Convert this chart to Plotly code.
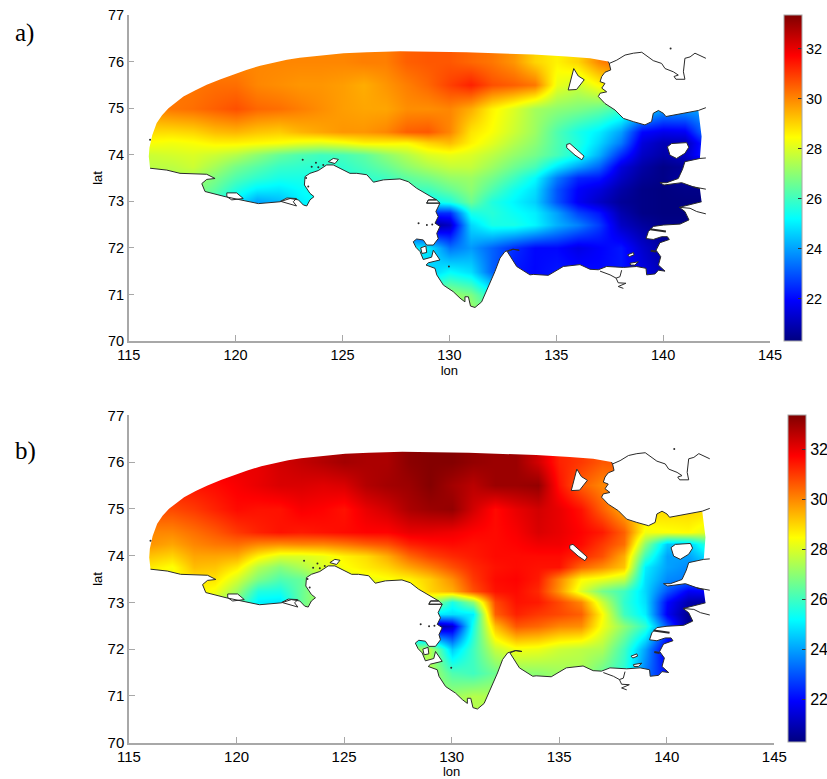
import plotly.graph_objects as go

lon = [115+i for i in range(28)]
lat = [70.5, 71.0, 71.5, 72.0, 72.5, 72.75, 73.0, 73.25, 73.5, 73.75, 74.0, 74.25, 74.5, 75.0, 75.5, 76.0, 76.5]

sst_a = [
 [25,25,25,25,25,25,25,25,25,25,25,25,25,25,26.5,27.5,27.5,27.0,24,22,22,22,22,22,22,22,21,21],
 [25,25,25,25,25,25,25,25,25,25,25,25,25,25,26.5,27.2,26.8,25.5,23,22,22,22,22,22,22,21.5,21,21],
 [25,25,25,25,25,25,25,25,25,25,25,25,25,25,24.5,25.2,24.8,23.2,22.2,22,22.2,22.1,22,22.2,21.6,21,21,21],
 [25,25,25,25,25,25,25,25,25,25,25,25,25,25,25,23.4,23.9,23.2,22.5,22,22,21.6,21.9,22.2,21.3,20.7,20.6,20.6],
 [25,25,25,25,25,25,25,25,25,25,25,25,24,22,20.5,21.2,24.7,25.5,25.5,25.1,24.2,23.6,22.7,21.2,20.7,20.4,20.4,20.4],
 [25,25,25,25,25,25,25,25,25,25,25,25,25,24,22.5,22.5,25.5,25.7,25.3,25,24,22.8,22.2,20.9,20.4,20.3,20.3,20.3],
 [27,27,27,26.6,25.8,25,24,24.3,25,25.3,25.4,25.4,25.4,25.4,25.2,25.6,26.6,25.6,25.1,24.6,23,21.8,21.2,20.6,20.4,20.3,20.3,20.3],
 [27,27,27,27,26.4,25.6,25,24.9,25.2,25.5,25.5,25.5,25.5,26,26,26.5,27,26.2,25.4,24.8,23,21.9,21.5,20.8,20.4,20.3,20.4,20.4],
 [27.3,27.3,27.4,27.3,26.8,26.2,25.8,25.5,25.5,25.5,25.6,25.8,26,26.4,26.7,27.1,27.2,26.7,26,25.2,23.5,22.4,22.2,21.2,20.6,20.4,20.8,21],
 [27.6,27.6,27.6,27.8,27.3,26.7,26.3,25.9,25.8,25.7,25.8,26.1,26.5,27,27.4,27.7,27.7,27.2,26.6,26.1,24.9,24,23.2,21.5,20.8,20.4,20.6,21],
 [27.8,27.8,27.9,28,27.8,27.5,27,26.5,26.2,26,26.1,26.4,27,27.5,28,28.2,28,27.6,27.1,26.7,26.1,25.4,24.2,22.5,21.2,20.8,21.2,22.5],
 [28.4,28.4,28.3,28.4,28.6,28.6,28.5,28.4,28.2,28.1,28.3,28.6,28.6,28.5,29,29.3,28.6,28.1,27.5,27,26.2,25.6,24.7,23.5,21.5,21,21,22.5],
 [28.9,28.9,28.9,29,29.3,29.4,29.2,29.1,29.4,29.6,29.8,29.8,30,30.5,30.6,30,28.8,28.4,27.8,27.2,26.2,25.5,25,24,22,21.7,21.8,23.5],
 [29.9,30,30.2,30.3,30.5,30.7,30.4,30.3,30.1,29.9,29.7,29.6,29.6,29.9,29.9,30,29.5,28.6,28,27.3,27,26.8,26.5,26,25,24,24,24],
 [30.2,30.2,30.2,30.2,30.3,30.3,30,29.9,29.8,29.8,29.7,29.5,29.8,30.1,30.4,30.9,31.3,30.7,30.5,30.2,28.2,27.8,28.5,29,29,29,29,29],
 [30,30,30,30,30,30,30,30,30,30,30,30.1,30.1,30.5,30.6,30.6,30.4,30.2,29.8,29,28.6,29,30,30.5,30.5,30.5,30.5,30.5],
 [30,30,30,30,30,30,30,30,30,30,30,30.1,30.1,30.5,30.6,30.6,30.4,30.2,29.8,29,28.6,29,30,30.5,30.5,30.5,30.5,30.5],
]

sst_b = [
 [26,26,26,26,26,26,26,26,26,26,26,26,26,26,27,27.3,27.5,27.5,27,27,27,27,26.5,25.5,24,22,21,21],
 [26,26,26,26,26,26,26,26,26,26,26,26,26,26,27,27.2,27.5,27.4,27,27,27,27,26.5,25.5,24,22,21,21],
 [26,26,26,26,26,26,26,26,26,26,26,26,26,27,27.4,26.2,26,26.6,27,27,27.2,27.3,26.5,25.7,23.5,22,21,21],
 [26,26,26,26,26,26,26,26,26,26,26,26,26,27,27.5,24.5,26,27.7,28.3,28.2,27.8,27.6,27.4,26,24,21.5,21,21],
 [27,27,27,27,27,27,27,27,27,27,27,27,26,23,20.5,21.3,25.5,29.3,30.6,30.4,30,29.9,28.3,27,25.8,23,20.5,20.5],
 [27.5,27.5,27.5,27.5,27.5,27.5,27,27,27,27,27,27,27,26,25,24.8,25,30.5,31.3,31,30.8,30.5,28.5,26,25,21.8,20.5,20.5],
 [28.5,28.5,28.5,28.3,27.7,26.5,25,24.9,26.5,27.6,27.6,27.6,27.6,28,27.5,25.5,27,30.8,31.5,31.4,30.8,30,27.8,25.8,24.8,22,20.9,20.6],
 [28.5,28.5,28.5,28.7,28.3,27.2,25.6,25.5,26.5,27.6,28,28,28,28.2,29,29.5,30.7,31.5,31.6,31.2,29.8,28,26.7,26,24.7,23,21.8,22],
 [28.3,28.3,28.3,28.8,28.8,27.9,26.8,26.2,26.5,27.5,28,28.2,28.4,28.6,29.1,29.9,31,31.6,31.7,31.4,30,28.5,28.2,27.7,24.8,23.7,23.5,23],
 [28.7,28.7,28.4,29.3,29.2,28.7,27.5,26.9,27.4,28,28.4,28.7,29,29.6,30.1,30.7,31.2,31.5,31.6,31.5,31.5,30.4,29.9,29.2,25,24,23.7,24],
 [29.2,29.2,29,29.6,29.6,29.5,28.6,28,28,28.2,28.6,28.9,29.5,30.4,30.9,31.2,31.4,31.6,31.6,31.6,31.6,31.2,30.7,29.5,26,24,24,25],
 [29.8,29.8,29.6,30,30.2,30.3,30,29.9,30,30,30.2,30.5,30.7,31.3,31.5,31.6,31.5,31.6,31.7,31.9,31.9,31.6,31,30.3,27,24.5,24.5,26],
 [30,30,30,30.3,30.6,31,31.3,31.5,31.4,31.5,31.6,31.7,31.7,32,32,31.9,31.7,31.6,31.8,32.2,32,31.7,31.4,30.5,28.3,28.4,28.5,28],
 [30.6,30.8,30.8,31,31.3,31.6,31.5,31.5,31.8,31.7,31.5,32,32.3,32.8,33,33.1,32.3,31.6,32,32.3,32,31.5,30.5,29.5,29,29,29,29],
 [31.4,31.4,31.4,31.5,31.6,31.8,32,32.2,32.2,32.1,32.2,32.7,32.9,33,33.3,32.9,32.6,33,33,33.1,31.5,30.5,30,30,30,30,30,30],
 [32,32,32,32,32,32,32,32.3,32.5,32.7,32.9,32.8,32.8,33.2,33.3,33.3,33.1,33,33,32.3,31.3,31,30.6,30.6,30.6,30.6,30.6,30.6],
 [32,32,32,32,32,32,32,32.3,32.5,32.7,32.9,32.8,32.8,33.2,33.3,33.3,33.1,33,33,32.3,31.3,31,30.6,30.6,30.6,30.6,30.6,30.6],
]

arc_lon = [116.0,115.94,115.97,116.1,116.31,116.56,116.86,117.2,117.56,118.1,118.65,119.3,119.9,120.5,121.15,121.8,122.4,123,123.64,124.3,125.05,126.14,127.7,130.8,132.3,133.93,135.49,136.58,137.43]
arc_lat = [73.71,73.96,74.15,74.42,74.68,74.85,75.0,75.13,75.25,75.38,75.5,75.62,75.72,75.82,75.91,75.98,76.04,76.08,76.11,76.15,76.18,76.2,76.22,76.2,76.18,76.15,76.11,76.07,76.0]

coast1_lon = [137.43,137.48,137.55,137.28,137.13,137.05,137.28,137.13,137.36,137.05,136.97,137.28,137.75,138.14,138.61,139.15,139.46,139.54,139.78,140.01,140.13,141.1,141.65]
coast1_lat = [76.0,75.96,75.82,75.77,75.68,75.57,75.53,75.43,75.35,75.32,75.25,75.1,74.96,74.78,74.71,74.64,74.71,74.89,74.95,74.89,74.82,74.9,74.95]

edge1_lon = [141.8]
edge1_lat = [74.39]

coast2_lon = [141.72,141.02,140.91,140.71,140.17,139.85,140.04,140.87,141.41,141.72]
coast2_lat = [73.92,73.85,73.69,73.49,73.4,73.4,73.35,73.4,73.31,73.27]

coast3_lon = [141.8,140.76,141.02,141.21,140.79,140.01,139.54,139.31,139.2,139.54,139.93,140.2,140.29,139.85,139.67,139.89,139.78,140.09,139.78,139.62,139.23,139.2,138.76,138.14,137.36,136.97,136.58,136.11,135.33,134.63,133.93,133.77,133.15,132.83,132.71,132.99,133.27,132.95,132.6,132.37,132.13,131.82,131.51,131.2,130.99,130.89,130.73,130.73,130.5,130.18,129.72,129.41,129.33,128.91,129.02,129.56,129.25,129.17,128.78,128.63,128.44,128.31,128.47,128.78,128.94,129.25,129.48,129.41,129.56,129.33,129.48,129.37,129.56,128.94,129.02,129.4,128.91,128.47,128.08,127.69,126.92,126.45,126.14,125.67,125.35,124.89,124.57,124.26,123.87,123.48,123.25,123.22,123.48,123.67,123.48,123.33,123.17,122.94,122.55,122.08,121.07,120.44,119.51,118.57,118.42,118.65,119.04,118.65,117.87,117.4,116.78,116.0]
coast3_lat = [72.99,72.87,72.78,72.6,72.51,72.49,72.46,72.35,72.2,72.18,72.24,72.24,72.18,72.11,71.95,71.81,71.63,71.5,71.52,71.44,71.42,71.56,71.6,71.58,71.6,71.53,71.54,71.64,71.6,71.41,71.43,71.42,71.6,71.85,71.92,71.97,71.95,71.97,71.92,71.78,71.49,71.17,70.84,70.72,70.75,70.95,70.95,70.84,70.92,71.06,71.2,71.42,71.56,71.63,71.68,71.74,71.95,71.8,71.75,71.92,72.01,72.13,72.19,72.17,72.06,72.06,72.2,72.31,72.46,72.53,72.67,72.78,72.96,72.96,73.03,73.03,73.17,73.28,73.42,73.48,73.46,73.41,73.57,73.6,73.6,73.71,73.78,73.78,73.66,73.6,73.53,73.35,73.17,73.1,73.03,72.9,72.92,73.03,73.06,72.99,72.95,73.01,73.1,73.21,73.38,73.47,73.49,73.58,73.6,73.6,73.67,73.71]

north_lon = [137.48,137.83,138.22,138.61,139.0,139.23,139.54,139.93,140.09,140.48,140.71,140.51,140.6,141.02,140.95,141.02,141.26,141.49,142.0]
north_lat = [75.96,76.03,76.14,76.18,76.2,76.12,76.02,75.96,75.85,75.78,75.71,75.68,75.62,75.62,75.78,76.07,76.1,76.18,76.07]
spur_a_lon = [141.65,142.0]
spur_a_lat = [74.95,75.01]
spur_b_lon = [141.72,142.0]
spur_b_lat = [73.92,73.93]
spur_c_lon = [141.41,142.0]
spur_c_lat = [73.31,73.26]
spur_d_lon = [140.76,141.26,141.57,142.0]
spur_d_lat = [72.87,72.85,72.78,72.73]
spur_e_lon = [139.39,140.13]
spur_e_lat = [72.4,72.35]
spur_f_lon = [139.42,139.67]
spur_f_lat = [71.94,71.92]
delta_lon = [137.05,137.52,137.8,137.9,138.26,137.9,138.14]
delta_lat = [71.5,71.42,71.35,71.25,71.24,71.17,71.13]
delta2_lon = [138.06,137.98,137.8]
delta2_lat = [71.52,71.38,71.35]

islands = {
 "kotelny": ([135.82,136.03,136.31,135.95,135.56,135.72,135.82],[75.85,75.69,75.61,75.4,75.39,75.64,75.85]),
 "stolbovoy": ([135.49,135.64,136.3,136.2,135.88,135.49,135.49],[74.22,74.24,73.97,73.89,73.99,74.15,74.22]),
 "bolshoy": ([140.2,140.4,141.1,141.2,141.02,140.63,140.32,140.2],[74.17,74.24,74.26,74.16,74.03,73.92,73.99,74.17]),
 "small1": ([138.34,138.61,138.64,138.42,138.34],[71.85,71.9,71.85,71.81,71.85]),
 "small2": ([138.45,138.84,138.68,138.48,138.45],[71.67,71.7,71.63,71.63,71.67]),
 "west1": ([119.59,120.05,120.36,119.82,119.59,119.59],[73.18,73.18,73.06,73.03,73.1,73.18]),
 "west2": ([122.1,122.4,122.85,122.7,122.85,122.4,122.1],[73.0,73.07,73.06,72.99,72.9,72.95,73.0]),
 "north1": ([124.34,124.57,124.81,124.65,124.34],[73.85,73.92,73.9,73.81,73.85]),
 "delta_round": ([128.66,128.9,128.94,128.72,128.66],[72.0,72.04,71.9,71.88,72.0]),
 "north2": ([129.02,129.4,129.56,128.94,129.02],[73.03,73.03,72.96,72.96,73.03]),
}

islet_lon = [116.0,123.14,123.76,123.56,123.87,124.1,128.56,128.95,129.2,129.98,140.35,123.3,123.4]
islet_lat = [74.32,73.89,73.83,73.74,73.73,73.78,72.53,72.49,72.5,71.6,76.28,73.5,73.32]

cb_ticks = [22, 24, 26, 28, 30, 32]
x_ticks = [115, 120, 125, 130, 135, 140, 145]
y_ticks = [70, 71, 72, 73, 74, 75, 76, 77]

W, H = 827, 779
jet = [[0,"rgb(0,0,128)"],[0.125,"rgb(0,0,255)"],[0.375,"rgb(0,255,255)"],
       [0.625,"rgb(255,255,0)"],[0.875,"rgb(255,0,0)"],[1,"rgb(128,0,0)"]]
GREY = "#a8a8a8"
INK = "#2a2a2a"
VMIN, VMAX = 20.3, 33.35

fig = go.Figure()

panels = [
 dict(z=sst_a, xa="x", ya="y", xd=(128.7,770), yd=(15,341), cb=(784,17.5), fs=14.5, cfs=14.5, so=0),
 dict(z=sst_b, xa="x2", ya="y2", xd=(129,774.3), yd=(415.3,742.7), cb=(787.7,17.5), fs=15, cfs=16, so=4),
]
mask_lon = [115,145,145,115,115,115] + arc_lon + coast1_lon + edge1_lon + coast2_lon + coast3_lon + [115]
mask_lat = [70,70,77,77,70,73.71] + arc_lat + coast1_lat + edge1_lat + coast2_lat + coast3_lat + [73.71]
lines = [(coast1_lon,coast1_lat),(coast2_lon,coast2_lat),(coast3_lon,coast3_lat),(north_lon,north_lat),
         (spur_a_lon,spur_a_lat),(spur_b_lon,spur_b_lat),(spur_c_lon,spur_c_lat),(spur_d_lon,spur_d_lat),
         (delta_lon,delta_lat),(delta2_lon,delta2_lat)]

for p in panels:
    fig.add_trace(go.Heatmap(
        x=lon, y=lat, z=p["z"], zmin=VMIN, zmax=VMAX, zsmooth="best", colorscale=jet,
        xaxis=p["xa"], yaxis=p["ya"], hoverinfo="skip",
        colorbar=dict(x=p["cb"][0]/W, xanchor="left", xpad=0, ypad=0,
                      y=1-p["yd"][0]/H, yanchor="top",
                      len=p["yd"][1]-p["yd"][0], lenmode="pixels",
                      thickness=p["cb"][1], thicknessmode="pixels",
                      tickvals=cb_ticks, ticks="inside", ticklen=4, tickcolor="#333333",
                      outlinewidth=1, outlinecolor=GREY,
                      tickfont=dict(family="Liberation Sans", size=p["cfs"], color="black")),
    ))
    fig.add_trace(go.Scatter(x=mask_lon, y=mask_lat, mode="lines", fill="toself", fillcolor="white",
                             line=dict(width=0), xaxis=p["xa"], yaxis=p["ya"], hoverinfo="skip", showlegend=False))
    for name, (ix, iy) in islands.items():
        fig.add_trace(go.Scatter(x=ix, y=iy, mode="lines", fill="toself", fillcolor="white",
                                 line=dict(color=INK, width=1), xaxis=p["xa"], yaxis=p["ya"],
                                 hoverinfo="skip", showlegend=False))
    for lx, ly in lines:
        fig.add_trace(go.Scatter(x=lx, y=ly, mode="lines", line=dict(color=INK, width=1),
                                 xaxis=p["xa"], yaxis=p["ya"], hoverinfo="skip", showlegend=False))
    for lx, ly in [(spur_e_lon,spur_e_lat),(spur_f_lon,spur_f_lat)]:
        fig.add_trace(go.Scatter(x=lx, y=ly, mode="lines", line=dict(color=INK, width=2),
                                 xaxis=p["xa"], yaxis=p["ya"], hoverinfo="skip", showlegend=False))
    fig.add_trace(go.Scatter(x=islet_lon, y=islet_lat, mode="markers", marker=dict(color=INK, size=2),
                             xaxis=p["xa"], yaxis=p["ya"], hoverinfo="skip", showlegend=False))

def xaxis(p):
    d = p["xd"]
    return dict(domain=[d[0]/W, d[1]/W], range=[115,145], tickvals=x_ticks, ticks="inside", ticklen=6,
                tickcolor=GREY, showline=True, linecolor=GREY, linewidth=1.5, showgrid=False, zeroline=False,
                tickfont=dict(family="Liberation Sans", size=p["fs"], color="black"),
                title=dict(text="lon", font=dict(family="Liberation Sans", size=13, color="black"), standoff=p["so"]))
def yaxis(p):
    d = p["yd"]
    return dict(domain=[1-d[1]/H, 1-d[0]/H], range=[70,77], tickvals=y_ticks, ticks="inside", ticklen=6,
                tickcolor=GREY, showline=True, linecolor=GREY, linewidth=1.5, showgrid=False, zeroline=False,
                tickfont=dict(family="Liberation Sans", size=p["fs"], color="black"),
                title=dict(text="lat", font=dict(family="Liberation Sans", size=13, color="black"), standoff=2))

fig.update_layout(
    width=W, height=H, margin=dict(l=0, r=0, t=0, b=0, autoexpand=False), paper_bgcolor="white", plot_bgcolor="white",
    showlegend=False,
    xaxis=dict(xaxis(panels[0]), anchor="y"),
    yaxis=dict(yaxis(panels[0]), anchor="x"),
    xaxis2=dict(xaxis(panels[1]), anchor="y2"),
    yaxis2=dict(yaxis(panels[1]), anchor="x2"),
    annotations=[
        dict(text="a)", x=13/W, y=1-33/H, xref="paper", yref="paper", xanchor="left", yanchor="middle", showarrow=False,
             font=dict(family="Liberation Serif", size=25, color="black")),
        dict(text="b)", x=13/W, y=1-451/H, xref="paper", yref="paper", xanchor="left", yanchor="middle", showarrow=False,
             font=dict(family="Liberation Serif", size=25, color="black")),
    ],
)
fig.write_html("out.html", config=dict(displayModeBar=False),
               post_script="document.body.style.margin='0';")
